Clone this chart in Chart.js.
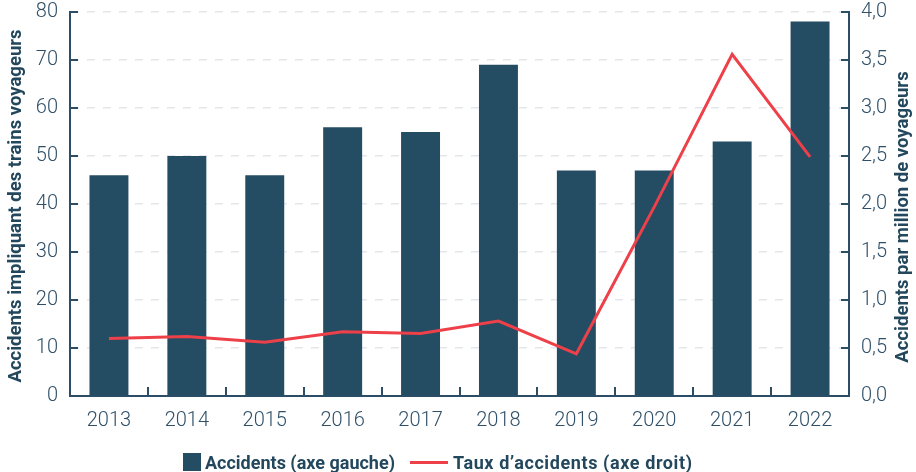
<!DOCTYPE html>
<html>
<head>
<meta charset="utf-8">
<script src="https://cdn.jsdelivr.net/npm/chart.js@4"></script>
<style>
  body { margin: 0; background: #fff; }
  #wrap { position: relative; width: 916px; height: 472px; }
  #legend {
    position: absolute; left: 183px; top: 451px; height: 22px;
    display: flex; align-items: center;
    font: bold 18px Roboto, sans-serif; color: #23475d;
  }
  #legend .item { display: flex; align-items: center; margin-right: 15px; }
  #legend .box { width: 18px; height: 18px; background: #244c63; margin-right: 4px; }
  #legend .ln { width: 38px; height: 3px; background: #ee4049; margin-right: 5px; }
  #legend .wide { letter-spacing: 0.6px; }
</style>
</head>
<body>
<div id="wrap">
  <canvas id="chart"></canvas>
  <div id="legend">
    <div class="item"><span class="box"></span>Accidents (axe gauche)</div>
    <div class="item"><span class="ln"></span><span class="wide">Taux d’accidents (axe droit)</span></div>
  </div>
</div>
<script>
const years = ["2013", "2014", "2015", "2016", "2017", "2018", "2019", "2020", "2021", "2022"];
const accidents = [46, 50, 46, 56, 55, 69, 47, 47, 53, 78];
const accidentRate = [0.60, 0.62, 0.56, 0.67, 0.65, 0.78, 0.44, 1.97, 3.56, 2.49];
const leftTitle = "Accidents impliquant des trains voyageurs";
const rightTitle = "Accidents par million de voyageurs";

const AXIS = "#2b4e66";
const TEXT = "#2f5068";
const TITLE = "#23475d";

// ticks drawn inward from the axis lines, plus the two rotated titles
const axisExtras = {
  id: "axisExtras",
  afterDatasetsDraw(chart) {
    const ctx = chart.ctx;
    const a = chart.chartArea;
    const x = chart.scales.x, y = chart.scales.y, y1 = chart.scales.y1;
    ctx.save();
    ctx.strokeStyle = AXIS;
    ctx.lineWidth = 2;
    ctx.beginPath();
    y.ticks.forEach(t => {
      const py = Math.round(y.getPixelForValue(t.value));
      ctx.moveTo(a.left, py); ctx.lineTo(a.left + 8, py);
    });
    y1.ticks.forEach(t => {
      const py = Math.round(y1.getPixelForValue(t.value));
      ctx.moveTo(a.right, py); ctx.lineTo(a.right - 8, py);
    });
    for (let i = 1; i < years.length; i++) {
      const px = Math.round((x.getPixelForValue(i - 1) + x.getPixelForValue(i)) / 2);
      ctx.moveTo(px, a.bottom); ctx.lineTo(px, a.bottom - 9);
    }
    ctx.stroke();

    ctx.fillStyle = TITLE;
    ctx.font = "bold 18.5px Roboto, sans-serif";
    ctx.textAlign = "center";
    ctx.textBaseline = "middle";
    ctx.save();
    ctx.translate(16, 206);
    ctx.rotate(-Math.PI / 2);
    ctx.fillText(leftTitle, 0, 0);
    ctx.restore();
    ctx.save();
    ctx.translate(903, 217);
    ctx.rotate(-Math.PI / 2);
    ctx.fillText(rightTitle, 0, 0);
    ctx.restore();
    ctx.restore();
  }
};

new Chart(document.getElementById("chart"), {
  type: "bar",
  data: {
    labels: years,
    datasets: [
      {
        type: "line",
        label: "Taux d’accidents (axe droit)",
        data: accidentRate,
        yAxisID: "y1",
        borderColor: "#ee4049",
        borderWidth: 3,
        pointRadius: 0,
        tension: 0,
        order: 1
      },
      {
        label: "Accidents (axe gauche)",
        data: accidents,
        yAxisID: "y",
        backgroundColor: "#244c63",
        barPercentage: 0.5,
        categoryPercentage: 1.0,
        order: 2
      }
    ]
  },
  options: {
    responsive: true,
    maintainAspectRatio: false,
    animation: false,
    layout: { padding: { top: 12, bottom: 0, left: 0, right: 0 } },
    plugins: {
      legend: { display: false },
      tooltip: { enabled: false }
    },
    scales: {
      x: {
        grid: { display: false, drawTicks: false },
        border: { display: true, color: AXIS, width: 2 },
        ticks: { color: TEXT, font: { family: "Roboto", size: 20, weight: "300" }, padding: 13 },
        afterFit(s) { s.height = 76; }
      },
      y: {
        position: "left",
        min: 0, max: 80,
        ticks: { stepSize: 10, color: TEXT, font: { family: "Roboto", size: 20, weight: "300" }, padding: 12 },
        grid: {
          drawTicks: false,
          color: c => c.tick && c.tick.value === 0 ? "rgba(0,0,0,0)" : "#e3e7ec",
          lineWidth: 1.5
        },
        border: { display: true, color: AXIS, width: 2, dash: [8, 8], dashOffset: 0 },
        afterFit(s) { s.width = 70; s.paddingTop = 0; }
      },
      y1: {
        position: "right",
        min: 0, max: 4,
        ticks: {
          stepSize: 0.5, color: TEXT, font: { family: "Roboto", size: 20, weight: "300" }, padding: 12,
          callback: v => v.toFixed(1).replace(".", ",")
        },
        grid: { drawOnChartArea: false, drawTicks: false },
        border: { display: true, color: AXIS, width: 2 },
        afterFit(s) { s.width = 67; s.paddingTop = 0; }
      }
    }
  },
  plugins: [axisExtras]
});
</script>
</body>
</html>
